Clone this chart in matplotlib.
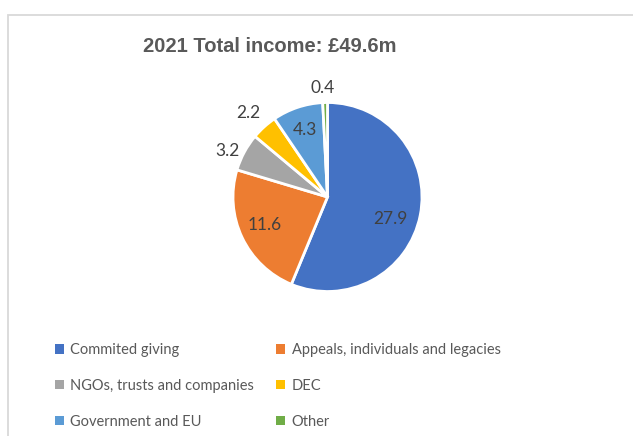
import matplotlib.pyplot as plt
import numpy as np
from matplotlib.patches import Rectangle

#%% Data
categories = ['Commited giving', 'Appeals, individuals and legacies',
              'NGOs, trusts and companies', 'DEC', 'Government and EU', 'Other']
values = [27.9, 11.6, 3.2, 2.2, 4.3, 0.4]
value_labels = ['27.9', '11.6', '3.2', '2.2', '4.3', '0.4']
colors = ['#4472C4', '#ED7D31', '#A5A5A5', '#FFC000', '#5B9BD5', '#70AD47']
label_dist = [0.70, 0.725, 1.17, 1.22, 0.75, 1.155]
label_shift = [-8, -1, 3.5, 1, 0, 1]   # degrees away from mid-angle

#%% Figure
W, H = 633, 436
fig = plt.figure(figsize=(W / 100, H / 100), dpi=100)

# chart frame (cropped at right and bottom)
fig.patches.append(Rectangle((8 / W, -0.1), 1.2, (H - 15) / H + 0.1,
                             transform=fig.transFigure, fill=False,
                             edgecolor='#d9d9d9', linewidth=1.3))

cx, cy, r = 327.5, 197, 94.5
half = r * 1.3
ax = fig.add_axes([(cx - half) / W, (H - cy - half) / H, 2 * half / W, 2 * half / H])
wedges, _ = ax.pie(values, colors=colors, startangle=90, counterclock=False,
                   wedgeprops=dict(edgecolor='white', linewidth=2))
ax.set_xlim(-1.3, 1.3)
ax.set_ylim(-1.3, 1.3)
ax.set_aspect('equal')
ax.axis('off')

for w, lab, d, s in zip(wedges, value_labels, label_dist, label_shift):
    ang = np.deg2rad((w.theta1 + w.theta2) / 2 + s)
    ax.text(d * np.cos(ang), d * np.sin(ang), lab, ha='center', va='center',
            fontsize=12.5, color='#404040', family='Lato')

fig.text(270 / W, 1 - 46 / H, '2021 Total income: £49.6m', ha='center', va='center',
         fontsize=14.5, fontweight='bold', color='#595959', family='Liberation Sans')

order = [0, 2, 4, 1, 3, 5]
leg = fig.legend([wedges[i] for i in order], [categories[i] for i in order],
                 ncol=2, loc='upper left', bbox_to_anchor=(42 / W, 1 - 330 / H),
                 frameon=False, handlelength=0.6, handleheight=0.6,
                 handletextpad=0.45, columnspacing=1.5, labelspacing=1.5,
                 prop={'family': 'Lato', 'size': 10.5}, labelcolor='#595959')
for h in leg.legend_handles:
    h.set_linewidth(0)

plt.savefig('out.png', dpi=100)
